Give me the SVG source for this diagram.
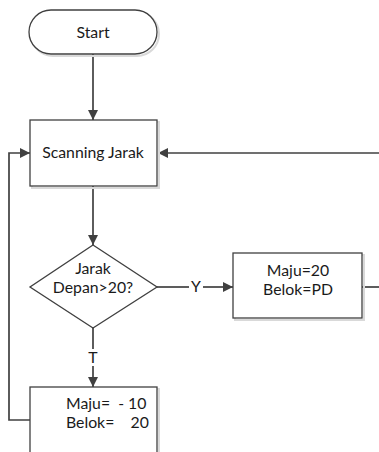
<svg xmlns="http://www.w3.org/2000/svg" width="379" height="452" viewBox="0 0 379 452">
  <style>
    .shape { fill: #ffffff; stroke: #404040; stroke-width: 1.3; }
    .shadow { fill: none; stroke: #d9d9d9; stroke-width: 2; }
    .line { fill: none; stroke: #404040; stroke-width: 1.7; }
    .lbl { font-family: Lato, "Noto Sans", sans-serif; font-size: 15.8px; fill: #1a1a1a; }
    .mid { text-anchor: middle; }
  </style>
  <defs>
    <marker id="arrow" viewBox="0 0 10 10" refX="10" refY="5" markerWidth="10" markerHeight="10" markerUnits="userSpaceOnUse" orient="auto">
      <path d="M0,0 L10,5 L0,10 z" fill="#404040"/>
    </marker>
  </defs>
  <rect width="379" height="452" fill="#ffffff"/>

  <g id="connectors">
    <!-- Start to Scanning -->
    <line class="line" x1="93" y1="54" x2="93" y2="120" marker-end="url(#arrow)"/>
    <!-- Scanning to decision -->
    <line class="line" x1="93" y1="186" x2="93" y2="245" marker-end="url(#arrow)"/>
    <!-- Yes branch -->
    <line class="line" x1="157" y1="287" x2="189" y2="287"/>
    <line class="line" x1="203" y1="287" x2="233" y2="287" marker-end="url(#arrow)"/>
    <!-- loop back from the right -->
    <polyline class="line" points="362,287 379,287"/>
    <line class="line" x1="379" y1="153" x2="158" y2="153" marker-end="url(#arrow)"/>
    <!-- No branch -->
    <line class="line" x1="93" y1="328" x2="93" y2="349"/>
    <line class="line" x1="93" y1="366" x2="93" y2="387" marker-end="url(#arrow)"/>
    <!-- loop back from the left -->
    <polyline class="line" points="30,420 9,420 9,153 30,153" marker-end="url(#arrow)"/>
    <text class="lbl mid" x="196" y="292">Y</text>
    <text class="lbl mid" x="93" y="363">T</text>
  </g>

  <g id="start">
    <rect class="shadow" x="31" y="12" width="128" height="44" rx="22"/>
    <rect class="shape" x="29" y="10" width="128" height="44" rx="22"/>
    <text class="lbl mid" x="93" y="38">Start</text>
  </g>

  <g id="scanning">
    <rect class="shadow" x="32" y="122" width="127" height="66"/>
    <rect class="shape" x="30" y="120" width="127" height="66"/>
    <text class="lbl mid" x="93" y="158">Scanning Jarak</text>
  </g>

  <g id="decision">
    <polygon class="shape" points="93,245 157,287 93,328 30,287"/>
    <text class="lbl mid" x="93" y="274">Jarak</text>
    <text class="lbl mid" x="93" y="293">Depan&gt;20?</text>
  </g>

  <g id="forward">
    <rect class="shadow" x="235" y="255" width="129" height="65"/>
    <rect class="shape" x="233" y="253" width="129" height="65"/>
    <text class="lbl mid" x="298" y="276">Maju=20</text>
    <text class="lbl mid" x="298" y="295">Belok=PD</text>
  </g>

  <g id="reverse">
    <rect class="shadow" x="32" y="389" width="127" height="70"/>
    <rect class="shape" x="30" y="387" width="127" height="70"/>
    <text class="lbl" x="66" y="409" xml:space="preserve">Maju=  - 10</text>
    <text class="lbl" x="66" y="428" xml:space="preserve">Belok=    20</text>
  </g>
</svg>
